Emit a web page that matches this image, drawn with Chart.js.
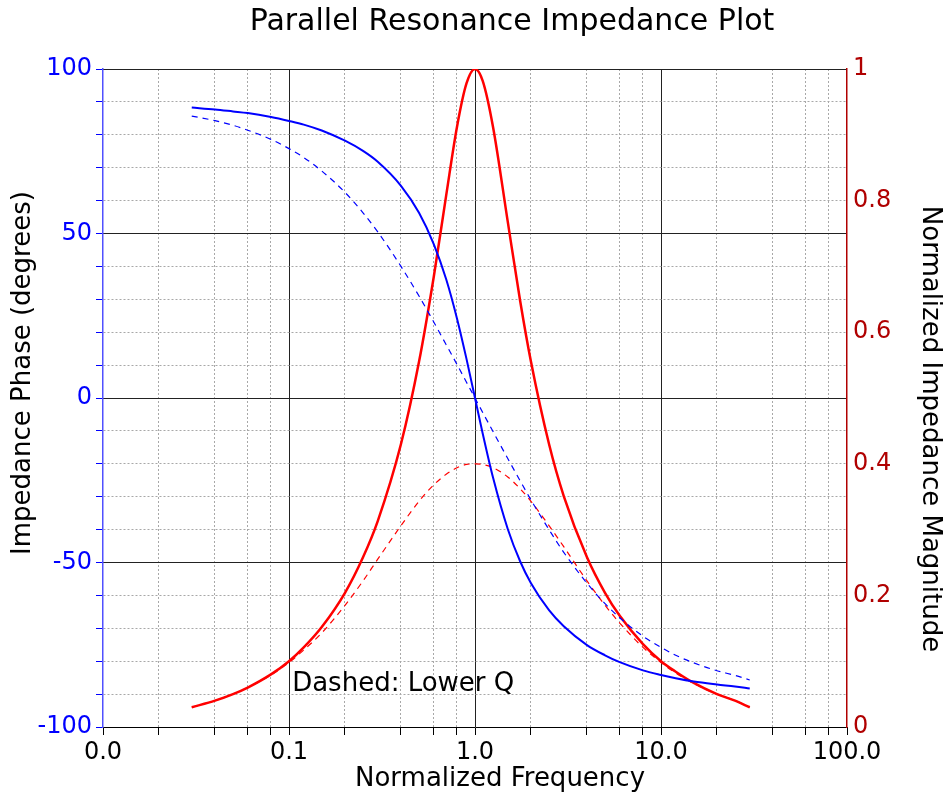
<!DOCTYPE html>
<html>
<head>
<meta charset="utf-8">
<script src="https://cdn.jsdelivr.net/npm/chart.js@4"></script>
<style>
  body { margin: 0; background: #fff; }
  #wrap { width: 948px; height: 795px; position: relative; }
</style>
</head>
<body>
<div id="wrap"><canvas id="impChart"></canvas></div>
<script>
// Werte
const freq = [0.03, 0.04, 0.05, 0.06, 0.08, 0.1, 0.12, 0.15, 0.2, 0.25, 0.3, 0.4, 0.5, 0.6, 0.7, 0.8, 0.9,
  1.0, 1.1, 1.25, 1.5, 1.75, 2, 2.5, 3, 4, 5, 6, 8, 10, 12, 15, 20, 25, 30];

const phaseHighQ = [88.3, 87.7, 87.1, 86.6, 85.4, 84.2, 83.1, 81.3, 78.2, 75.1, 71.8, 64.5, 56.3, 46.8, 36.1, 24.2, 11.9,
  0, -10.8, -24.2, -39.8, -49.7, -56.3, -64.5, -69.4, -75.1, -78.2, -80.3, -82.8, -84.2, -85.2, -86.2, -87.1, -87.7, -88.3];

const phaseLowQ = [85.7, 84.3, 82.9, 81.4, 78.6, 75.8, 73.1, 69.0, 62.5, 56.3, 50.5, 40.0, 31.0, 23.1, 16.2, 10.2, 4.8,
  0, -4.4, -10.2, -18.4, -25.2, -31.0, -40.0, -46.9, -56.3, -62.5, -66.8, -72.4, -75.8, -78.2, -80.5, -82.9, -84.3, -85.7];

const magHighQ = [0.030, 0.040, 0.050, 0.060, 0.080, 0.100, 0.121, 0.152, 0.204, 0.258, 0.313, 0.430, 0.555, 0.684, 0.808, 0.912, 0.978,
  1.000, 0.982, 0.912, 0.768, 0.647, 0.555, 0.430, 0.351, 0.258, 0.204, 0.169, 0.126, 0.100, 0.084, 0.067, 0.050, 0.040, 0.030];

const magLowQ = [0.030, 0.040, 0.050, 0.060, 0.079, 0.098, 0.117, 0.143, 0.185, 0.222, 0.255, 0.306, 0.343, 0.368, 0.384, 0.394, 0.399,
  0.400, 0.399, 0.394, 0.380, 0.362, 0.343, 0.306, 0.274, 0.222, 0.185, 0.158, 0.121, 0.098, 0.082, 0.066, 0.050, 0.040, 0.030];

// Achsen-Ticks
const xTicks = [0.01, 0.02, 0.04, 0.06, 0.08, 0.1, 0.2, 0.4, 0.6, 0.8, 1, 2, 4, 6, 8, 10, 20, 40, 60, 80, 100];
const xMajorTicks = [0.01, 0.1, 1, 10, 100];
const xTickLabels = ['0.0', '0.1', '1.0', '10.0', '100.0'];
const yMajorTicks = [-100, -50, 0, 50, 100];
const yTickLabels = ['-100', '-50', '0', '50', '100'];
const y1Ticks = [0, 0.2, 0.4, 0.6, 0.8, 1];
const y1TickLabels = ['0', '0.2', '0.4', '0.6', '0.8', '1'];

const FONT = 'DejaVu Sans';
const BLUE = '#0000ff';
const RED = '#ff0000';
const DARKRED = '#b00000';

function pts(ys) {
  return freq.map((f, i) => ({ x: f, y: ys[i] }));
}

function xMajorIndex(v) {
  return xMajorTicks.findIndex(m => Math.abs(m - v) < m * 1e-6);
}

function drawText(ctx, text, x, y, size, rot, align) {
  ctx.save();
  ctx.translate(x, y);
  ctx.rotate(rot);
  ctx.font = size + 'px "' + FONT + '"';
  ctx.fillStyle = '#000';
  ctx.textAlign = align;
  ctx.textBaseline = 'middle';
  ctx.fillText(text, 0, 0);
  ctx.restore();
}

// Titel, Achsentitel und Notiz (sitzen im Original etwas neben der Mitte)
const textPlugin = {
  id: 'texts',
  afterDraw(chart) {
    const ctx = chart.ctx;
    const a = chart.chartArea;
    const cx = (a.left + a.right) / 2;
    const cy = (a.top + a.bottom) / 2;
    drawText(ctx, 'Parallel Resonance Impedance Plot', cx + 37, 22, 30, 0, 'center');
    drawText(ctx, 'Normalized Frequency', cx + 25, 779, 26, 0, 'center');
    drawText(ctx, 'Impedance Phase (degrees)', 23, cy - 25, 26, -Math.PI / 2, 'center');
    drawText(ctx, 'Normalized Impedance Magnitude', 930, cy + 31, 26, Math.PI / 2, 'center');
    drawText(ctx, 'Dashed: Lower Q',
      chart.scales.x.getPixelForValue(0.104), chart.scales.y.getPixelForValue(-87), 26, 0, 'left');
  }
};

const impChart = document.querySelector('#impChart');

new Chart(impChart, {
  type: 'line',
  data: {
    datasets: [
      { label: 'Phase', data: pts(phaseHighQ), yAxisID: 'y', borderColor: BLUE, borderWidth: 2 },
      { label: 'Phase lower Q', data: pts(phaseLowQ), yAxisID: 'y', borderColor: BLUE, borderWidth: 1.2, borderDash: [6, 5] },
      { label: 'Magnitude', data: pts(magHighQ), yAxisID: 'y1', borderColor: RED, borderWidth: 2.5 },
      { label: 'Magnitude lower Q', data: pts(magLowQ), yAxisID: 'y1', borderColor: RED, borderWidth: 1.2, borderDash: [6, 5] }
    ]
  },
  options: {
    responsive: true,
    maintainAspectRatio: false,
    animation: false,
    layout: { padding: { top: 69, left: 0, right: 0, bottom: 0 } },
    elements: {
      point: { radius: 0 },
      line: { cubicInterpolationMode: 'monotone', fill: false }
    },
    plugins: {
      legend: { display: false },
      tooltip: { enabled: false },
      title: { display: false }
    },
    scales: {
      x: {
        type: 'logarithmic',
        position: 'bottom',
        min: 0.01,
        max: 100,
        afterBuildTicks: scale => { scale.ticks = xTicks.map(v => ({ value: v })); },
        afterFit: scale => { scale.height = 68; },
        ticks: {
          autoSkip: false,
          maxRotation: 0,
          padding: 3,
          color: '#000',
          font: { family: FONT, size: 24 },
          callback: value => {
            const i = xMajorIndex(value);
            return i >= 0 ? xTickLabels[i] : '';
          }
        },
        grid: {
          color: ctx => (xMajorIndex(ctx.tick.value) >= 0 ? 'rgba(0,0,0,0)' : '#a8a8a8'),
          lineWidth: 1,
          tickColor: '#000',
          tickLength: 8,
          tickBorderDash: []
        },
        border: { color: '#000', width: 1, dash: [2, 2] }
      },
      xMajor: {
        type: 'logarithmic',
        position: 'bottom',
        min: 0.01,
        max: 100,
        afterBuildTicks: scale => { scale.ticks = [0.1, 1, 10].map(v => ({ value: v })); },
        afterFit: scale => { scale.height = 0; },
        ticks: { display: false },
        grid: { color: '#222', lineWidth: 1, drawTicks: false },
        border: { display: false }
      },
      y: {
        type: 'linear',
        position: 'left',
        min: -100,
        max: 100,
        afterBuildTicks: scale => {
          let t = [];
          for (let v = -100; v <= 100; v += 10) t.push({ value: v });
          scale.ticks = t;
        },
        afterFit: scale => { scale.width = 103; },
        ticks: {
          autoSkip: false,
          padding: 4,
          color: BLUE,
          font: { family: FONT, size: 24 },
          callback: value => {
            const i = yMajorTicks.indexOf(value);
            return i >= 0 ? yTickLabels[i] : '';
          }
        },
        grid: {
          color: ctx => (ctx.tick.value % 50 === 0 ? 'rgba(0,0,0,0)' : '#a8a8a8'),
          lineWidth: 1,
          tickColor: BLUE,
          tickLength: 7,
          tickBorderDash: []
        },
        border: { color: '#5050ff', width: 1.5, dash: [2, 2] }
      },
      yMajor: {
        type: 'linear',
        position: 'left',
        min: -100,
        max: 100,
        afterBuildTicks: scale => { scale.ticks = [-50, 0, 50, 100].map(v => ({ value: v })); },
        afterFit: scale => { scale.width = 0; },
        ticks: { display: false },
        grid: { color: '#222', lineWidth: 1, drawTicks: false },
        border: { display: false }
      },
      y1: {
        type: 'linear',
        position: 'right',
        min: 0,
        max: 1,
        afterBuildTicks: scale => { scale.ticks = y1Ticks.map(v => ({ value: v })); },
        afterFit: scale => { scale.width = 101; },
        ticks: {
          padding: 6,
          color: DARKRED,
          font: { family: FONT, size: 24 },
          callback: value => {
            const i = y1Ticks.findIndex(t => Math.abs(t - value) < 1e-9);
            return i >= 0 ? y1TickLabels[i] : '';
          }
        },
        grid: { drawOnChartArea: false, drawTicks: false },
        border: { color: DARKRED, width: 1.5 }
      }
    }
  },
  plugins: [textPlugin]
});
</script>
</body>
</html>
